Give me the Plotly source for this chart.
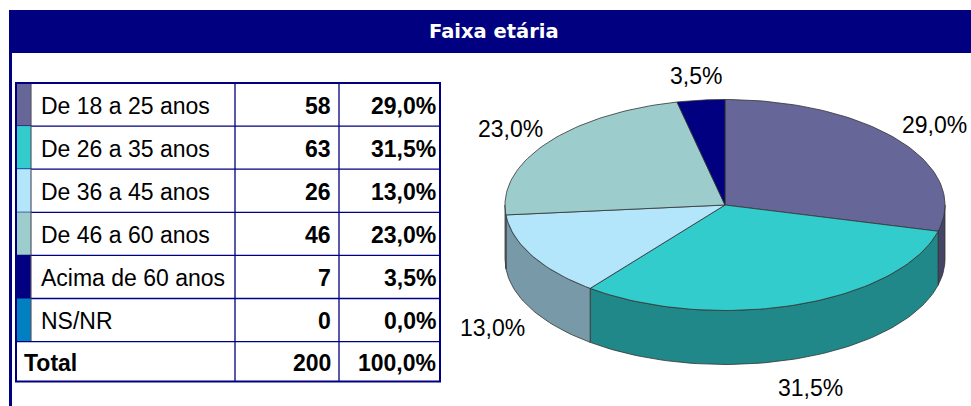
import math
import plotly.graph_objects as go

# dados da pesquisa
categorias = ["De 18 a 25 anos", "De 26 a 35 anos", "De 36 a 45 anos",
              "De 46 a 60 anos", "Acima de 60 anos", "NS/NR"]
quantidades = [58, 63, 26, 46, 7, 0]
percentuais = [29.0, 31.5, 13.0, 23.0, 3.5, 0.0]
titulo = "Faixa etária"

# cores (topo e lateral da pizza)
cores = ["#666699", "#33CCCC", "#B3E6FA", "#9CCCCC", "#000080", "#0080C0"]
cores_lado = ["#444466", "#208888", "#7799A8", "#6A8E8E", "#000050", "#005080"]

W, H = 971, 406
NAVY = "#000080"
FONT = "Arial, Liberation Sans, sans-serif"
FS = 23


def fmt_pct(v):
    return f"{v:.1f}%".replace(".", ",")


fig = go.Figure()
shapes = []
annotations = []

# barra de titulo e borda esquerda
shapes.append(dict(type="rect", x0=9, x1=W + 2, y0=10, y1=53,
                   fillcolor=NAVY, line_width=0, layer="below"))
shapes.append(dict(type="line", x0=10.5, x1=10.5, y0=53, y1=H + 2,
                   line=dict(color=NAVY, width=3)))
annotations.append(dict(x=494, y=31, text=f"<b>{titulo}</b>", showarrow=False,
                        font=dict(family="DejaVu Sans", size=19.5, color="white"),
                        xanchor="center", yanchor="middle"))

# tabela
tx0, tsw, tlab, tnum, tx1 = 16, 31, 235, 339, 440
ty0, rh, rh_total = 83, 43.1, 40
linha = dict(color=NAVY, width=1.3)

for i, cat in enumerate(categorias):
    y0 = ty0 + i * rh
    y1 = y0 + rh
    yc = (y0 + y1) / 2 + 1
    shapes.append(dict(type="rect", x0=tx0, x1=tsw, y0=y0, y1=y1,
                       fillcolor=cores[i], line_width=0))
    shapes.append(dict(type="line", x0=tsw, x1=tsw, y0=y0, y1=y1,
                       line=dict(color="#555566", width=1.2)))
    shapes.append(dict(type="line", x0=tx0, x1=tx1, y0=y1, y1=y1, line=linha))
    annotations.append(dict(x=tsw + 8, y=yc, text=cat, showarrow=False,
                            xanchor="left", yanchor="middle",
                            font=dict(family=FONT, size=FS, color="black")))
    annotations.append(dict(x=tnum - 6, y=yc, text=f"<b>{quantidades[i]}</b>",
                            showarrow=False, xanchor="right", yanchor="middle",
                            font=dict(family=FONT, size=FS, color="black")))
    annotations.append(dict(x=tx1 - 2, y=yc, text=f"<b>{fmt_pct(percentuais[i])}</b>",
                            showarrow=False, xanchor="right", yanchor="middle",
                            font=dict(family=FONT, size=FS, color="black")))

ty_tot = ty0 + len(categorias) * rh
ty_end = ty_tot + rh_total
yc = (ty_tot + ty_end) / 2 + 1
annotations.append(dict(x=tx0 + 6, y=yc, text="<b>Total</b>", showarrow=False,
                        xanchor="left", yanchor="middle",
                        font=dict(family=FONT, size=FS, color="black")))
annotations.append(dict(x=tnum - 6, y=yc, text=f"<b>{sum(quantidades)}</b>",
                        showarrow=False, xanchor="right", yanchor="middle",
                        font=dict(family=FONT, size=FS, color="black")))
annotations.append(dict(x=tx1 - 2, y=yc, text=f"<b>{fmt_pct(sum(percentuais))}</b>",
                        showarrow=False, xanchor="right", yanchor="middle",
                        font=dict(family=FONT, size=FS, color="black")))

for x in (tlab, tnum):
    shapes.append(dict(type="line", x0=x, x1=x, y0=ty0, y1=ty_end, line=linha))
shapes.append(dict(type="rect", x0=tx0, x1=tx1, y0=ty0, y1=ty_end,
                   line=dict(color=NAVY, width=2)))

# pizza 3D
cx, cy, rx, ry, prof = 725, 205, 220, 105.5, 54


def ponto(ang, dy=0.0):
    a = math.radians(ang)
    return cx + rx * math.sin(a), cy - ry * math.cos(a) + dy


def arco(a0, a1, dy=0.0):
    n = max(int(abs(a1 - a0) / 1.5), 2)
    pts = [ponto(a0 + (a1 - a0) * k / n, dy) for k in range(n + 1)]
    return [p[0] for p in pts], [p[1] for p in pts]


fatias = []
acum = 0.0
for i, v in enumerate(quantidades):
    if v == 0:
        continue
    a0 = acum / sum(quantidades) * 360
    acum += v
    a1 = acum / sum(quantidades) * 360
    fatias.append((i, a0, a1))

# laterais visiveis (metade da frente)
for i, a0, a1 in fatias:
    s0, s1 = max(a0, 90), min(a1, 270)
    if s1 <= s0:
        continue
    xs, ys = arco(s0, s1)
    xb, yb = arco(s1, s0, prof)
    fig.add_trace(go.Scatter(x=xs + xb + [xs[0]], y=ys + yb + [ys[0]],
                             fill="toself", fillcolor=cores_lado[i], mode="lines",
                             line=dict(color="#333333", width=0.8),
                             hoverinfo="skip", showlegend=False))

# topo
for i, a0, a1 in fatias:
    xs, ys = arco(a0, a1)
    fig.add_trace(go.Scatter(x=[cx] + xs + [cx], y=[cy] + ys + [cy],
                             fill="toself", fillcolor=cores[i], mode="lines",
                             line=dict(color="#333333", width=0.8),
                             hoverinfo="skip", showlegend=False))
    meio = math.radians((a0 + a1) / 2)
    lx = cx + 265 * math.sin(meio)
    ly = cy - 130 * math.cos(meio) + (prof + 6 if math.cos(meio) < 0 else 0)
    annotations.append(dict(x=lx, y=ly, text=fmt_pct(percentuais[i]),
                            showarrow=False, xanchor="center", yanchor="middle",
                            font=dict(family=FONT, size=FS, color="black")))

fig.update_layout(
    width=W, height=H,
    margin=dict(l=0, r=0, t=0, b=0),
    paper_bgcolor="white", plot_bgcolor="white",
    xaxis=dict(range=[0, W], visible=False, fixedrange=True),
    yaxis=dict(range=[H, 0], visible=False, fixedrange=True),
    shapes=shapes, annotations=annotations,
    showlegend=False,
)

fig.write_html("out.html", config={"displayModeBar": False},
               post_script="document.body.style.margin='0';"
                           "document.body.style.overflow='hidden';")
